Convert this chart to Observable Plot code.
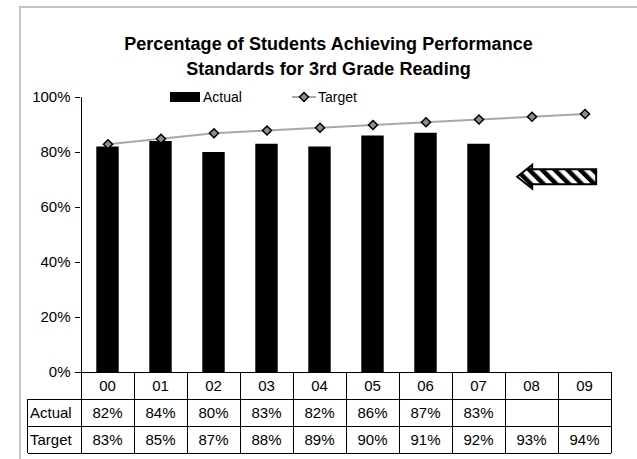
<!DOCTYPE html>
<html>
<head>
<meta charset="utf-8">
<script src="https://cdn.jsdelivr.net/npm/d3@7"></script>
<script src="https://cdn.jsdelivr.net/npm/@observablehq/plot@0.6"></script>
<style>
  body { margin: 0; background: #fff; }
  #wrap { position: relative; width: 637px; height: 459px; overflow: hidden;
          font-family: "Liberation Sans", Arial, sans-serif; color: #000; }
  #frame { position: absolute; left: 19px; top: 6px; width: 700px; height: 600px;
           border-left: 2px solid #c4c4c4; border-top: 2px solid #c4c4c4; }
  #title { position: absolute; left: 0; top: 32px; width: 657px; text-align: center;
           font-weight: bold; font-size: 18px; line-height: 25px; letter-spacing: 0.05px; }
  #chart { position: absolute; left: 0; top: 0; }
</style>
</head>
<body>
<div id="wrap">
  <div id="frame"></div>
  <div id="chart"></div>
  <div id="title">Percentage of Students Achieving Performance<br>Standards for 3rd Grade Reading</div>
</div>
<script>
// ---- data ----
const years = ["00", "01", "02", "03", "04", "05", "06", "07", "08", "09"];
const actual = [0.82, 0.84, 0.80, 0.83, 0.82, 0.86, 0.87, 0.83, null, null];
const target = [0.83, 0.85, 0.87, 0.88, 0.89, 0.90, 0.91, 0.92, 0.93, 0.94];
const seriesNames = ["Actual", "Target"];
const yTicks = [0, 0.2, 0.4, 0.6, 0.8, 1.0];

const pct = d3.format(".0%");
const actualData = years.map((year, i) => ({year, value: actual[i]})).filter(d => d.value != null);
const targetData = years.map((year, i) => ({year, value: target[i]}));
const rows = [actual, target];

const FONT = "Liberation Sans, Arial, sans-serif";
const LINE_GRAY = "#a8a8a8";
const DOT_GRAY = "#8c8c8c";
const TABLE_FS = 15;

// data table under the plot + axis line (uses the plot's scales)
function tableMark(index, scales) {
  const x = scales.x, y = scales.y;
  const step = x(years[1]) - x(years[0]);
  const left = x(years[0]);
  const right = x(years[years.length - 1]) + step;
  const top = y(0);
  const rowH = 27;
  const labelLeft = 27.5;
  const g = d3.create("svg:g").attr("font-family", FONT).attr("fill", "#000")
    .attr("font-size", TABLE_FS).attr("text-anchor", "middle");
  const line = (x1, y1, x2, y2) => g.append("line")
    .attr("x1", x1).attr("y1", y1).attr("x2", x2).attr("y2", y2)
    .attr("stroke", "#000").attr("stroke-width", 1).attr("shape-rendering", "crispEdges");
  // y axis line
  line(left, y(1), left, top + 3 * rowH);
  // horizontal lines
  line(left - 5, top, right, top);
  for (let r = 1; r <= 3; r++) line(labelLeft, top + r * rowH, right, top + r * rowH);
  // vertical lines
  line(labelLeft, top + rowH, labelLeft, top + 3 * rowH);
  years.forEach(c => line(x(c) + step, top, x(c) + step, top + 3 * rowH));
  // header
  years.forEach(c => g.append("text").attr("x", x(c) + step / 2).attr("y", top + rowH / 2)
    .attr("dy", "0.35em").text(c));
  // rows
  rows.forEach((vals, r) => {
    const cy = top + (r + 1.5) * rowH;
    g.append("text").attr("x", labelLeft + 2.5).attr("y", cy).attr("dy", "0.35em")
      .attr("text-anchor", "start").text(seriesNames[r]);
    years.forEach((c, i) => {
      if (vals[i] == null) return;
      g.append("text").attr("x", x(c) + step / 2).attr("y", cy).attr("dy", "0.35em")
        .text(pct(vals[i]));
    });
  });
  return g.node();
}

// legend
function legendMark() {
  const g = d3.create("svg:g").attr("font-family", FONT).attr("font-size", 14)
    .attr("text-anchor", "start").attr("fill", "#000");
  const cy = 97;
  g.append("rect").attr("x", 170).attr("y", cy - 5).attr("width", 30).attr("height", 10).attr("fill", "#000");
  g.append("text").attr("x", 203).attr("y", cy).attr("dy", "0.35em").text(seriesNames[0]);
  g.append("line").attr("x1", 292).attr("x2", 316).attr("y1", cy).attr("y2", cy)
    .attr("stroke", LINE_GRAY).attr("stroke-width", 2);
  g.append("path").attr("d", d3.symbol(d3.symbolDiamond2, 52)())
    .attr("transform", `translate(304,${cy})`).attr("fill", DOT_GRAY).attr("stroke", "#000").attr("stroke-width", 1.5);
  g.append("text").attr("x", 318).attr("y", cy).attr("dy", "0.35em").text(seriesNames[1]);
  return g.node();
}

// hatched arrow annotation pointing at the 07 bar
function arrowMark(index, scales) {
  const x = scales.x, y = scales.y;
  const step = x(years[1]) - x(years[0]);
  const tip = x("08") + step * 0.23;
  const tail = x("09") + step * 0.72;
  const cy = y(0.71);
  const bh = 7.5, hh = 12, hl = 15;
  const g = d3.create("svg:g");
  const defs = g.append("defs");
  const pat = defs.append("pattern").attr("id", "hatch").attr("patternUnits", "userSpaceOnUse")
    .attr("width", 9).attr("height", 9).attr("patternTransform", "rotate(-45)");
  pat.append("rect").attr("width", 9).attr("height", 9).attr("fill", "#fff");
  pat.append("rect").attr("width", 4.5).attr("height", 9).attr("fill", "#000");
  const pts = [
    [tip, cy], [tip + hl, cy - hh], [tip + hl, cy - bh], [tail, cy - bh],
    [tail, cy + bh], [tip + hl, cy + bh], [tip + hl, cy + hh]
  ];
  g.append("path").attr("d", "M" + pts.map(p => p.join(",")).join("L") + "Z")
    .attr("fill", "url(#hatch)").attr("stroke", "#000").attr("stroke-width", 2)
    .attr("stroke-linejoin", "miter");
  return g.node();
}

const chart = Plot.plot({
  width: 637,
  height: 459,
  marginLeft: 80,
  marginRight: 25,
  marginTop: 97,
  marginBottom: 87,
  style: {fontFamily: FONT, fontSize: "15px", color: "#000", background: "transparent", overflow: "visible"},
  x: {domain: years, padding: 0, axis: null},
  y: {domain: [0, 1], ticks: yTicks, tickFormat: pct, tickSize: 5, tickPadding: 5, label: null},
  marks: [
    Plot.barY(actualData, {x: "year", y: "value", fill: "#000", insetLeft: 15.3, insetRight: 15.3}),
    Plot.line(targetData, {x: "year", y: "value", stroke: LINE_GRAY, strokeWidth: 2}),
    Plot.dot(targetData, {x: "year", y: "value", symbol: "diamond2", r: 4.1, fill: DOT_GRAY, stroke: "#000", strokeWidth: 1.5}),
    tableMark,
    arrowMark,
    legendMark
  ]
});
document.getElementById("chart").appendChild(chart);
</script>
</body>
</html>
